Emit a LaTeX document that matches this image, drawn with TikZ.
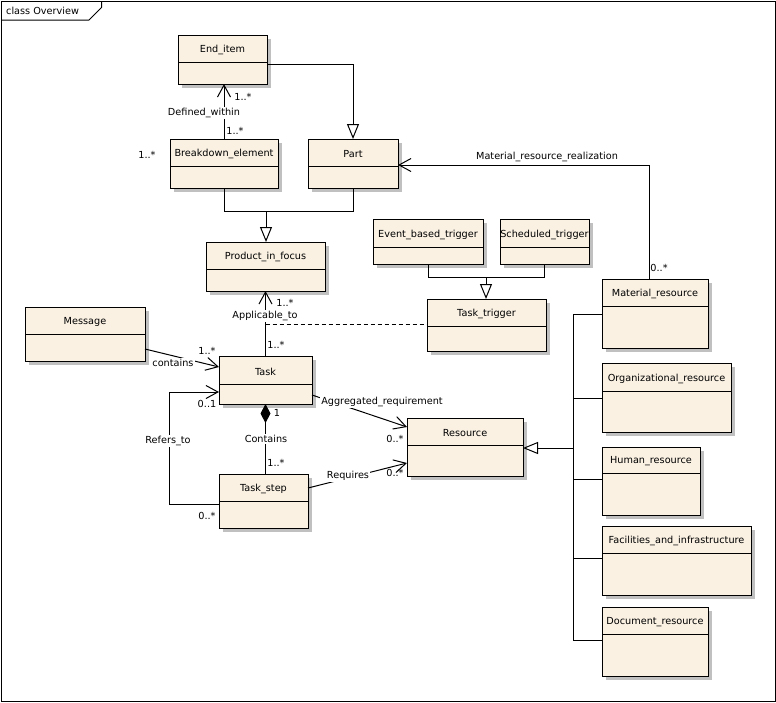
\documentclass[tikz,border=0pt]{standalone}
\usepackage{fontspec}
\setmainfont{DejaVu Sans}
\usetikzlibrary{arrows.meta}
\definecolor{boxfill}{RGB}{250,241,227}
\definecolor{shadowc}{RGB}{192,192,192}
\newcommand{\txtfont}{\fontsize{9.7}{11}\selectfont}
\newcommand{\umlclass}[7]{%
  \fill[shadowc] ({#2+4},{#3+4}) rectangle ({#4+4},{#5+4});
  \node[clsbox, minimum width={#4-#2}, minimum height={#5-#3}] (#1) at ({(#2+#4)/2},{(#3+#5)/2}) {};
  \draw[ln] ({#2},{#6}) -- ({#4},{#6});
  \node[clstext] at ({(#2+#4)/2},{(#3+#6)/2+1.5}) {#7};
}
\begin{document}
\begin{tikzpicture}[x=1pt,y=-1pt,
  ln/.style={line width=1pt, draw=black},
  clsbox/.style={draw=black, line width=1pt, fill=boxfill, inner sep=0pt, outer sep=0pt, rectangle},
  clstext/.style={font=\txtfont, inner sep=0pt},
  lbl/.style={font=\txtfont, fill=white, inner sep=1pt},
  mult/.style={font=\txtfont, inner sep=0pt},
  assoc/.style={ln, -{Straight Barb[length=12pt,width=13pt]}},
  gen/.style={ln, -{Triangle[fill=white,length=15pt,width=12pt]}},
  comp/.style={ln, {Diamond[length=19pt,width=10pt]}-},
  plain/.style={ln}]
\useasboundingbox (0,0) rectangle (776,702);
% frame
\draw[ln] (1.5,1.5) rectangle (775,701);
\draw[ln] (1.5,20) -- (89,20) -- (101.5,7.5) -- (101.5,1.5);
\node[clstext, anchor=west] (title) at (6,11) {class Overview};

% classes
\umlclass{EI}{178}{35}{267}{84}{62}{End\_item}
\umlclass{BE}{170}{139}{278}{188}{166}{Breakdown\_element}
\umlclass{Part}{308}{139}{398}{188}{166}{Part}
\umlclass{PF}{206}{242}{325}{291}{269}{Product\_in\_focus}
\umlclass{EBT}{373}{219}{483}{264}{247}{Event\_based\_trigger}
\umlclass{SCH}{500}{219}{589}{264}{247}{Scheduled\_trigger}
\umlclass{TT}{427}{299}{546}{351}{326}{Task\_trigger}
\umlclass{MR}{602}{279}{708}{348}{306}{Material\_resource}
\umlclass{Msg}{25}{307}{145}{361}{334}{Message}
\umlclass{Task}{219}{356}{312}{404}{384}{Task}
\umlclass{TS}{219}{474}{308}{528}{501}{Task\_step}
\umlclass{Res}{407}{418}{523}{476}{445}{Resource}
\umlclass{OR}{602}{363}{731}{432}{391}{Organizational\_resource}
\umlclass{HR}{602}{447}{700}{515}{473}{Human\_resource}
\umlclass{FI}{602}{526}{751}{595}{553}{Facilities\_and\_infrastructure}
\umlclass{DR}{602}{607}{708}{676}{634}{Document\_resource}

% Defined_within
\draw[assoc] (BE.north) -- (BE.north |- EI.south);
\node[lbl] (dwlbl) at (204,113) {Defined\_within};
\node[mult] (m1) at (243,97) {1..*};
\node[mult] (m2) at (235,131) {1..*};
\node[mult] (m3) at (147,155) {1..*};

% End_item -> Part generalization
\draw[gen] (EI.east |- 0,64) -| (Part.north);

% Breakdown_element, Part -> Product_in_focus
\coordinate (j1) at (266,211);
\draw[plain] (BE.south) |- (j1);
\draw[plain] (Part.south) |- (j1);
\draw[gen] (j1) -- (j1 |- PF.north);

% Applicable_to
\draw[assoc] (Task.north) -- (Task.north |- PF.south);
\node[lbl] (atlbl) at (265,316) {Applicable\_to};
\node[mult] (m4) at (285,303) {1..*};
\node[mult] (m5) at (276,345) {1..*};
\draw[ln, dash pattern=on 4pt off 3pt] (Task.north |- 0,324) -- (TT.west |- 0,324);

% triggers -> Task_trigger
\coordinate (j2) at (486,277);
\draw[plain] (EBT.south) |- (j2);
\draw[plain] (SCH.south) |- (j2);
\draw[gen] (j2) -- (j2 |- TT.north);

% Material_resource_realization
\draw[assoc] (MR.north -| 649,0) |- (Part.east |- 0,165);
\node[mult] (mrlbl) at (547,157) {Material\_resource\_realization};
\node[mult] (m6) at (659,268) {0..*};

% contains
\draw[assoc] (Msg.east |- 0,349) -- (Task.west |- 0,367);
\node[lbl] (clbl) at (173,363) {contains};
\node[mult] (m7) at (207,351) {1..*};

% Refers_to
\coordinate (rc) at (169,392);
\draw[assoc] (TS.west |- 0,504) -| (rc) -- (Task.west |- 0,392);
\node[lbl] (rlbl) at (168,441) {Refers\_to};
\node[mult] (m8) at (207,404) {0..1};
\node[mult] (m9) at (207,516) {0..*};

% Contains (composition)
\draw[comp] (Task.south) -- (Task.south |- TS.north);
\node[lbl] (ctlbl) at (266,439) {Contains};
\node[mult] (m10) at (277,413) {1};
\node[mult] (m11) at (276,463) {1..*};

% Aggregated_requirement
\draw[assoc] (Task.east |- 0,395) -- (Res.west |- 0,427);
\node[lbl] (arlbl) at (382,402) {Aggregated\_requirement};
\node[mult] (m12) at (395,439) {0..*};

% Requires
\draw[assoc] (TS.east |- 0,488) -- (Res.west |- 0,463);
\node[lbl] (rqlbl) at (348,476) {Requires};
\node[mult] (m13) at (395,473) {0..*};

% Resource hierarchy
\coordinate (spine) at (573,448);
\draw[plain] (MR.west |- 0,314) -| (spine |- 0,640) -- (DR.west |- 0,640);
\draw[plain] (OR.west |- 0,398) -- (spine |- 0,398);
\draw[plain] (HR.west |- 0,479) -- (spine |- 0,479);
\draw[plain] (FI.west |- 0,558) -- (spine |- 0,558);
\draw[gen] (spine) -- (spine -| Res.east);
\end{tikzpicture}
\end{document}
